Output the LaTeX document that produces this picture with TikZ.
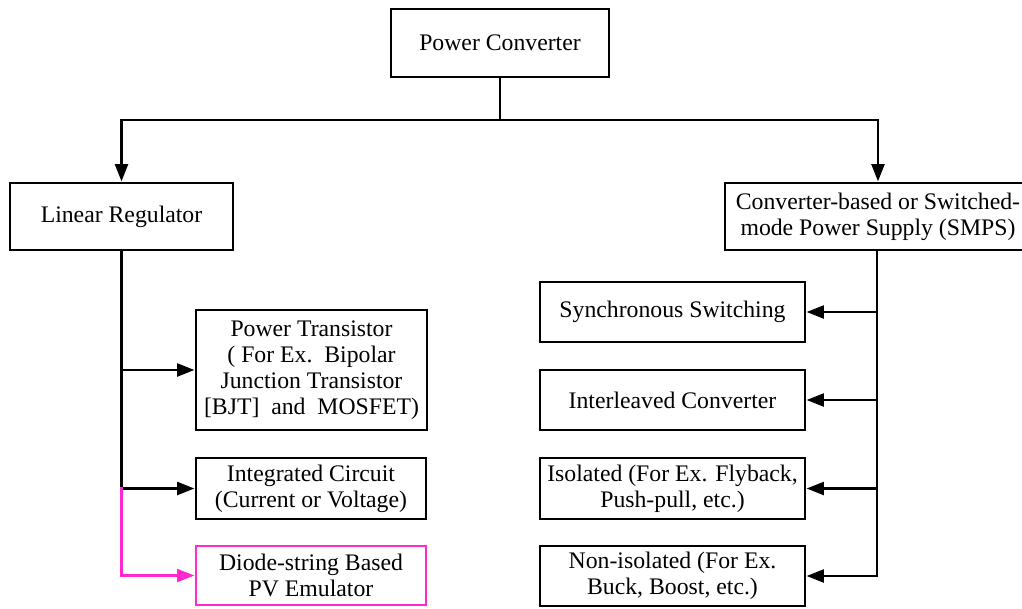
\documentclass[tikz,border=0pt]{standalone}
\usepackage{fontspec}
\setmainfont{Liberation Serif}
\usetikzlibrary{arrows.meta}
\definecolor{pvpink}{RGB}{255,40,210}
\begin{document}
\begin{tikzpicture}[x=0.75pt,y=-0.75pt,
  box/.style={draw, line width=2.2pt, align=center, inner sep=0pt,
    font=\fontsize{17.8pt}{19.6pt}\selectfont},
  wire/.style={line width=2.2pt},
  arr/.style={wire, -{Triangle[length=13pt,width=9.5pt]}},
  pvwire/.style={wire, draw=pvpink, line width=2pt, -{Triangle[length=13pt,width=9.5pt,fill=pvpink]}}
]
\clip (0,0) rectangle (1022,608);
\fill[white] (0,0) rectangle (1022,608);

% top level
\node[box, minimum width=218*0.75pt, minimum height=68*0.75pt] (pc) at (500,43) {Power Converter};

% second level
\node[box, minimum width=223*0.75pt, minimum height=67*0.75pt] (lr) at (121.5,216.5) {Linear Regulator};
\node[box, minimum width=306*0.75pt, minimum height=67*0.75pt] (smps) at (878,216.5)
  {Converter-based or Switched-\\mode Power Supply (SMPS)};

% linear regulator branches
\node[box, minimum width=231*0.75pt, minimum height=120*0.75pt] (pt) at (311.5,370)
  {Power Transistor\\( For Ex.\ \ Bipolar\\Junction Transistor\\{}[BJT]\ \ and\ \ MOSFET)};
\node[box, minimum width=230*0.75pt, minimum height=61*0.75pt] (ic) at (311,488.5)
  {Integrated Circuit\\(Current or Voltage)};
\node[box, draw=pvpink, minimum width=230*0.75pt, minimum height=59*0.75pt] (ds) at (311,575.5)
  {Diode-string Based\\PV Emulator};

% switched-mode branches
\node[box, minimum width=265*0.75pt, minimum height=60*0.75pt] (ss) at (672.5,312) {Synchronous Switching};
\node[box, minimum width=265*0.75pt, minimum height=60*0.75pt] (il) at (672.5,400) {Interleaved Converter};
\node[box, minimum width=265*0.75pt, minimum height=61*0.75pt] (iso) at (672.5,488.5)
  {Isolated (For Ex. Flyback,\\Push-pull, etc.)};
\node[box, minimum width=265*0.75pt, minimum height=60*0.75pt] (ni) at (672.5,576)
  {Non-isolated (For Ex.\\Buck, Boost, etc.)};

% junction points
\coordinate (j0) at (500,120);
\coordinate (jl) at (121.5,488.5);
\coordinate (jr) at (877,576);

% top split
\draw[wire] (pc.south) -- (j0);
\draw[arr] (j0) -| (lr.north);
\draw[arr] (j0) -| (smps.north);

% left trunk
\draw[wire] (lr.south) -- (jl);
\draw[arr] (lr.south |- pt.west) -- (pt.west);
\draw[arr] (jl) -- (ic.west);
\draw[pvwire] ([yshift=1.5pt]jl) |- (ds.west);

% right trunk
\draw[wire] (smps.south -| jr) -- (jr);
\draw[arr] (jr |- ss.east) -- (ss.east);
\draw[arr] (jr |- il.east) -- (il.east);
\draw[arr] (jr |- iso.east) -- (iso.east);
\draw[arr] ([xshift=1.1pt]jr) -- (ni.east);
\end{tikzpicture}
\end{document}
